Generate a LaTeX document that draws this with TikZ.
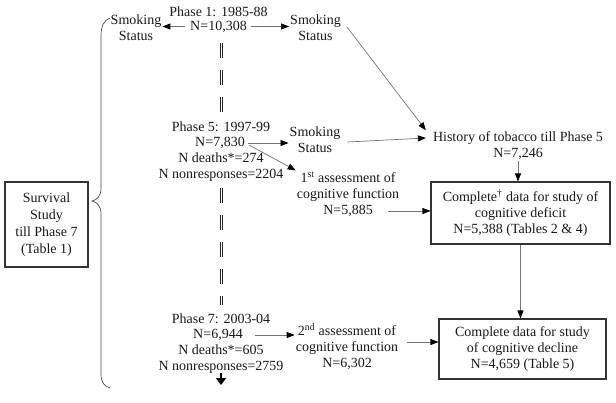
\documentclass[tikz,border=0pt]{standalone}
\usepackage{fontspec}
\setmainfont{Liberation Serif}
\usetikzlibrary{arrows.meta,calc}
\begin{document}
\begin{tikzpicture}[x=1pt,y=-1pt,
 txt/.style={font=\fontsize{14}{16}\selectfont, align=center, inner sep=1pt, text=black!90},
 box/.style={txt, draw=black!80, line width=1.1pt, inner sep=0pt},
 con/.style={draw=black!55, line width=0.7pt, -{Triangle[length=8pt,width=6pt,color=black]}},
 dsh/.style={draw=black!85, line width=0.75pt, dash pattern=on 15pt off 12pt},
 brace/.style={draw=black!70, line width=0.7pt},
 bigarr/.style={draw=black, line width=2.6pt, -{Triangle[length=7pt,width=10pt]}}
]
\path[use as bounding box, fill=white] (0,0) rectangle (616,402);

% Phase blocks
\node[txt] (p1a) at (218.5,12) {Phase 1: 1985-88};
\node[txt] (p1n) at (218.5,26.5) {N=10,308};
\node[txt] (sL) at (136,28) {Smoking\\Status};
\node[txt] (sR) at (315.5,28) {Smoking\\Status};

\node[txt] (p5a) at (221,127) {Phase 5: 1997-99};
\node[txt] (p5n) at (220,143) {N=7,830};
\node[txt] (p5b) at (221,167) {N deaths*=274\\N nonresponses=2204};
\node[txt] (s5) at (315,140) {Smoking\\Status};
\node[txt] (hist) at (518,145.5) {History of tobacco till Phase 5\\N=7,246};
\node[txt] (a1) at (348,194) {1\textsuperscript{st} assessment of\\cognitive function\\N=5,885};
\node[box, minimum width=179pt, minimum height=62pt] (def) at (520.5,213)
  {Complete\textsuperscript{\textdagger} data for study of\\cognitive deficit\\N=5,388 (Tables 2 \& 4)};

\node[txt] (p7a) at (221,319) {Phase 7: 2003-04};
\node[txt] (p7n) at (218,335) {N=6,944};
\node[txt] (p7b) at (221,359) {N deaths*=605\\N nonresponses=2759};
\node[txt] (a2) at (347,347) {2\textsuperscript{nd} assessment of\\cognitive function\\N=6,302};
\node[box, minimum width=167pt, minimum height=60pt] (dec) at (522.5,349)
  {Complete data for study\\of cognitive decline\\N=4,659 (Table 5)};

\node[box, minimum width=83pt, minimum height=85pt, font=\fontsize{14}{17}\selectfont] (surv) at (46.5,224.5)
  {Survival\\Study\\till Phase 7\\(Table 1)};

% connectors
\draw[con, shorten <=4pt] (p1n.west) -- (p1n.west -| sL.east);
\draw[con, shorten <=3pt] (p1n.east) -- (p1n.east -| sR.west);
\draw[con] ($(sR.east)+(5,-1)$) -- ($(hist.north west)+(-6,0)$);
\draw[con, shorten <=2pt] (p5n.east) -- (p5n.east -| s5.west);
\draw[con] ($(s5.east)+(6,2)$) -- ($(hist.west)+(-6,-7.5)$);
\draw[con] ($(p5n.east)+(3,2)$) -- (a1.north west);
\draw[con] ($(a1.east)+(-12,17)$) coordinate (a1o) -- (a1o -| def.west);
\draw[con] (hist.south) -- (hist.south |- def.north);
\draw[con] (def.south) -- (def.south |- dec.north);
\draw[con, shorten <=11pt] (p7n.east) -- (p7n.east -| a2.west);
\draw[con] ($(a2.east)+(8,-5)$) coordinate (a2o) -- (a2o -| dec.west);

% dashed double timeline
\foreach \dx in {-1,1}{
  \draw[dsh, shorten <=9.5pt, shorten >=9pt] ($(p1n.south -| p5a.north)+(\dx,0)$) -- ($(p5a.north)+(\dx,0)$);
  \draw[dsh, shorten <=5.5pt, shorten >=8pt] ($(p5b.south)+(\dx,0)$) -- ($(p5b.south |- p7a.north)+(\dx,0)$);
}
\coordinate (endp) at (221,385);
\draw[bigarr, shorten <=-2pt] (p7b.south) -- (endp);

% brace
\draw[brace] (110,18) .. controls (104,20) and (101,26) .. (101,36) -- (101,188)
  .. controls (101,196) and (97,200) .. (92,201)
  .. controls (97,202) and (101,206) .. (101,214) -- (101,374)
  .. controls (101,382) and (104,386) .. (110,388);
\end{tikzpicture}
\end{document}
